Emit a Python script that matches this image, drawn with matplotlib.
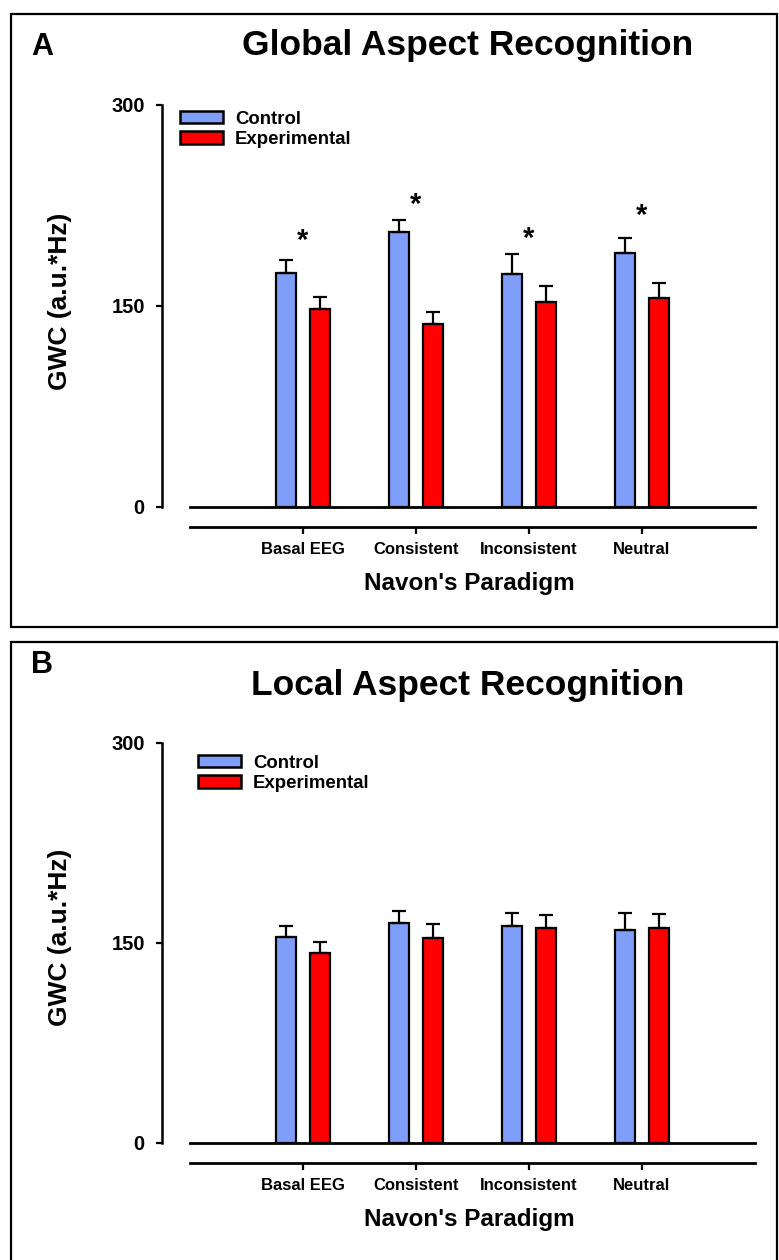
import matplotlib
matplotlib.use('Agg')
import matplotlib.pyplot as plt
from matplotlib.patches import Patch, Rectangle
import numpy as np

## dane
categories = ['Basal EEG', 'Consistent', 'Inconsistent', 'Neutral']
series = ['Control', 'Experimental']

global_control = [174.6, 205.2, 173.6, 189.6]
global_control_err = [9.5, 8.7, 14.7, 11.0]
global_exp = [147.8, 136.0, 152.5, 155.5]
global_exp_err = [9.0, 9.3, 12.4, 11.7]
global_stars = [205, 232, 207, 224]

local_control = [154.3, 164.5, 162.8, 159.5]
local_control_err = [8.3, 9.5, 9.8, 12.5]
local_exp = [142.5, 153.3, 160.8, 160.8]
local_exp_err = [7.8, 10.5, 10.0, 10.7]

yticks = [0, 150, 300]

BLUE = '#7e9ef9'
RED = '#ff0000'

plt.rcParams['font.family'] = ['Liberation Sans', 'DejaVu Sans']
plt.rcParams['font.weight'] = 'bold'

W, H = 779, 1260
fig = plt.figure(figsize=(W / 100, H / 100), dpi=100)


def px(x, y):
    return x / W, 1 - y / H


def panel(y_zero, y_top, letter, letter_y, title, title_y, ctrl, ctrl_err, exp, exp_err,
          stars, leg_xy, box_top, box_bottom):
    left, right = 190, 755
    ax = fig.add_axes([left / W, 1 - y_zero / H, (right - left) / W, (y_zero - y_top) / H])
    x = np.arange(len(categories))
    w = 0.18
    off = 0.15
    ekw = dict(ecolor='black', elinewidth=1.6, capsize=5, capthick=1.6)
    ax.bar(x - off, ctrl, w, color=BLUE, edgecolor='black', linewidth=1.6, zorder=3,
           yerr=[np.zeros(len(ctrl)), ctrl_err], error_kw=ekw)
    ax.bar(x + off, exp, w, color=RED, edgecolor='black', linewidth=1.6, zorder=3,
           yerr=[np.zeros(len(exp)), exp_err], error_kw=ekw)
    if stars is not None:
        for xi, s in zip(x, stars):
            ax.annotate('*', (xi, s), xytext=(0, -12.5), textcoords='offset points',
                        ha='center', va='baseline', fontsize=21, fontweight='bold')

    ax.set_xlim(-1, 4)
    ax.set_ylim(0, 300)
    ax.axhline(0, color='black', linewidth=2, clip_on=False, zorder=4)

    for s in ['top', 'right']:
        ax.spines[s].set_visible(False)
    ax.spines['left'].set_position(('outward', 20.5))
    ax.spines['bottom'].set_position(('outward', 14.5))
    ax.spines['left'].set_linewidth(1.8)
    ax.spines['bottom'].set_linewidth(2)

    ax.set_xticks(x)
    ax.set_xticklabels(categories, fontsize=12, fontweight='bold')
    ax.set_yticks(yticks)
    ax.set_yticklabels([str(t) for t in yticks], fontsize=14.5, fontweight='bold')
    ax.tick_params(axis='x', length=5, width=1.6, pad=6)
    ax.tick_params(axis='y', length=4, width=1.6, pad=8)

    handles = [Patch(facecolor=BLUE, edgecolor='black', linewidth=1.8, label=series[0]),
               Patch(facecolor=RED, edgecolor='black', linewidth=1.8, label=series[1])]
    ax.legend(handles=handles, loc='upper left', bbox_to_anchor=px(*leg_xy),
              bbox_transform=fig.transFigure, frameon=False, fontsize=13.4,
              handlelength=2.3, handleheight=0.65, handletextpad=0.65,
              labelspacing=0.2, borderpad=0, borderaxespad=0)

    # ramka panelu
    fig.patches.append(Rectangle(px(11, box_bottom), 766 / W, (box_bottom - box_top) / H,
                                 transform=fig.transFigure, fill=False,
                                 edgecolor='black', linewidth=1.6))
    fig.text(*px(31, letter_y), letter, fontsize=22, fontweight='bold',
             ha='left', va='baseline')
    fig.text(*px(468, title_y), title, fontsize=25.5, fontweight='bold',
             ha='center', va='baseline')
    fig.text(*px(60, y_zero - 205), 'GWC (a.u.*Hz)', fontsize=19, fontweight='bold',
             rotation=90, ha='center', va='center')
    fig.text(*px(469, y_zero + 83), "Navon's Paradigm", fontsize=17.5, fontweight='bold',
             ha='center', va='baseline')
    return ax


panel(506.7, 104.7, 'A', 55, 'Global Aspect Recognition', 55,
      global_control, global_control_err, global_exp, global_exp_err,
      global_stars, (180, 110.5), 14, 627)
panel(1142.7, 742.7, 'B', 673, 'Local Aspect Recognition', 695,
      local_control, local_control_err, local_exp, local_exp_err,
      None, (198, 754.5), 642, 1275)

plt.savefig('out.png', dpi=100)
